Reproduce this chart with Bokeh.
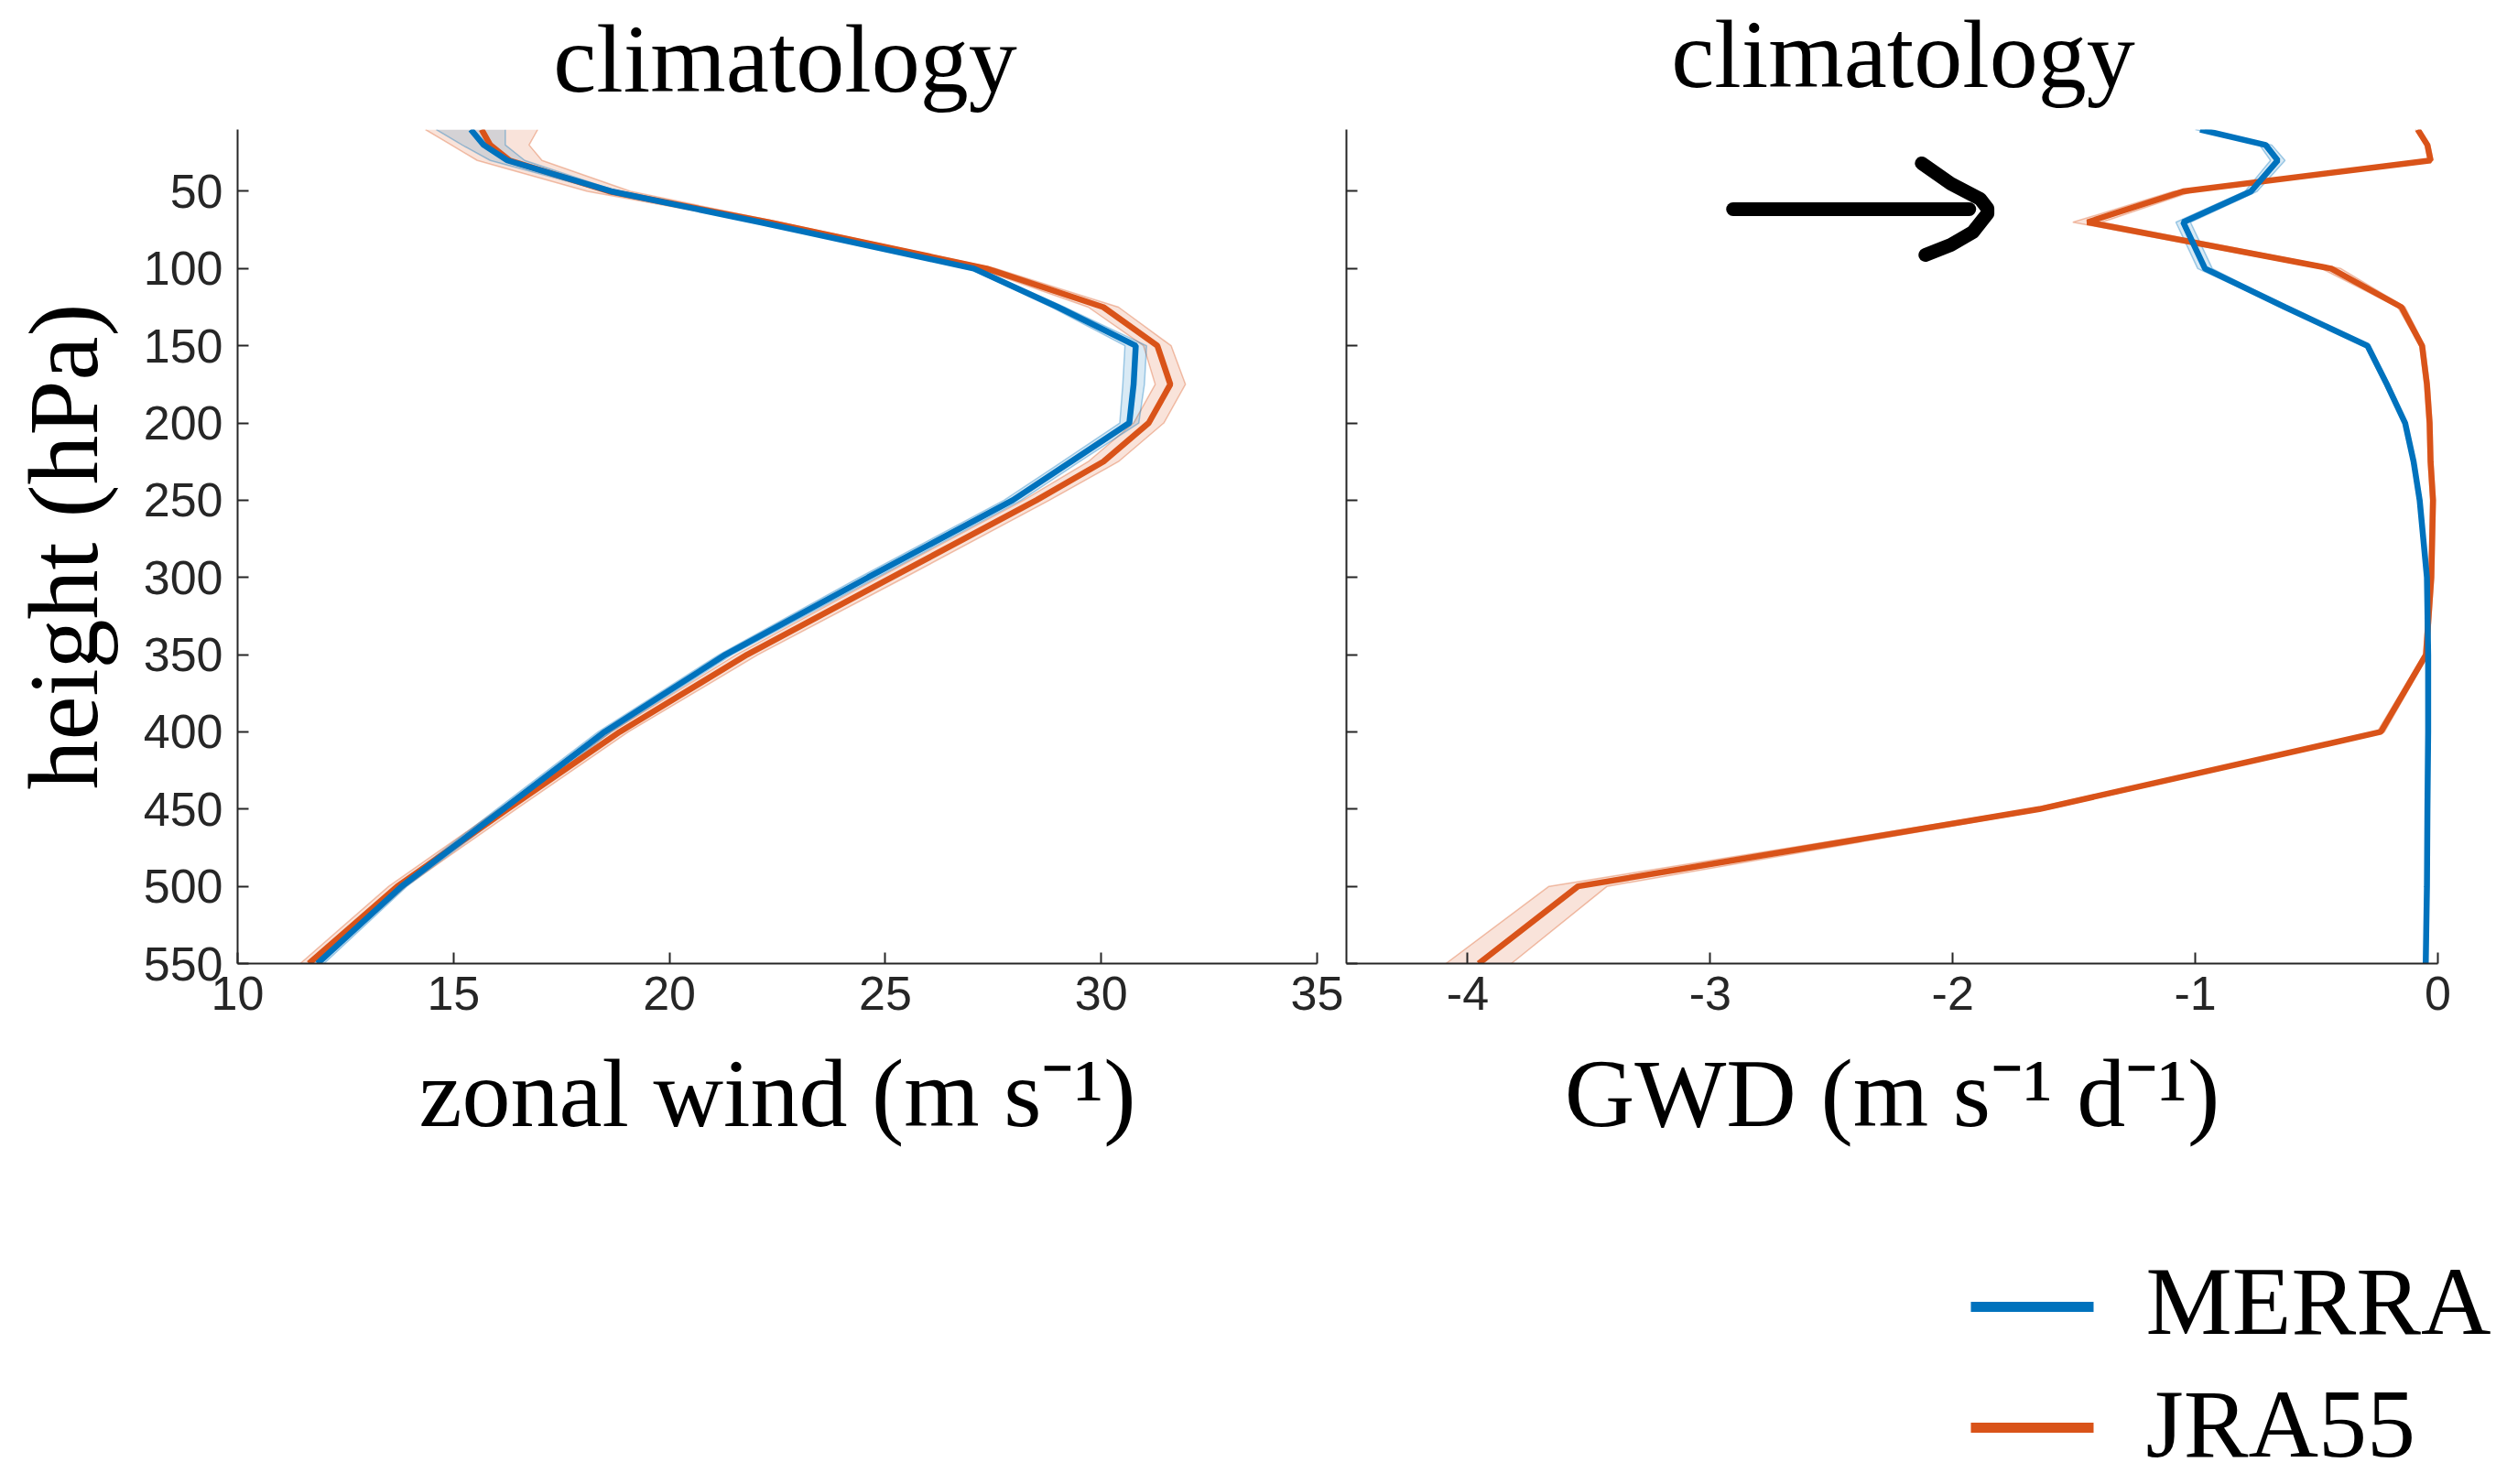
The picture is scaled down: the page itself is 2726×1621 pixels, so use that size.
import numpy as np
from bokeh.plotting import figure
from bokeh.layouts import row, column
from bokeh.models import FixedTicker, Range1d, Spacer
from bokeh.core.properties import value
from bokeh.embed import file_html
from bokeh.resources import INLINE

# ---------------- data ----------------
levels = [10, 20, 30, 50, 70, 100, 125, 150, 175, 200, 225, 250, 300, 350, 400, 450, 500, 550]

merra_u = [15.4, 15.7, 16.25, 18.65, 22.1, 27.05, 29.0, 30.8, 30.75, 30.65, 29.3, 27.95, 24.6, 21.3, 18.5, 16.15, 13.8, 11.85]
merra_u_spread = [0.8, 0.5, 0.4, 0.15, 0.1, 0.1, 0.15, 0.25, 0.25, 0.22, 0.2, 0.2, 0.2, 0.15, 0.15, 0.15, 0.12, 0.15]
jra_u = [15.65, 15.85, 16.3, 18.6, 22.3, 27.35, 30.05, 31.3, 31.6, 31.1, 30.05, 28.5, 25.15, 21.8, 18.85, 16.25, 13.7, 11.65]
jra_u_spread = [1.3, 0.9, 0.75, 0.5, 0.25, 0.2, 0.35, 0.32, 0.35, 0.35, 0.35, 0.3, 0.3, 0.25, 0.2, 0.2, 0.2, 0.2]

merra_gwd = [-0.98, -0.71, -0.66, -0.77, -1.05, -0.96, -0.63, -0.29, -0.21, -0.135, -0.10, -0.075, -0.045, -0.04, -0.04, -0.043, -0.045, -0.05]
merra_gwd_spread = [0.02, 0.025, 0.03, 0.025, 0.03, 0.03, 0.01, 0.01, 0.01, 0.005, 0.005, 0.005, 0.005, 0.005, 0.005, 0.005, 0.005, 0.005]
jra_gwd = [-0.083, -0.043, -0.03, -1.05, -1.445, -0.44, -0.15, -0.065, -0.045, -0.034, -0.03, -0.02, -0.027, -0.049, -0.235, -1.643, -3.545, -3.955]
jra_gwd_spread = [0.01, 0.01, 0.01, 0.04, 0.06, 0.04, 0.015, 0.01, 0.01, 0.01, 0.01, 0.01, 0.01, 0.01, 0.015, 0.04, 0.12, 0.135]

y_ticks = [50, 100, 150, 200, 250, 300, 350, 400, 450, 500, 550]
u_ticks = [10, 15, 20, 25, 30, 35]
gwd_ticks = [-4, -3, -2, -1, 0]

series_names = ["MERRA", "JRA55"]
panel_titles = ["climatology", "climatology"]

# hand-drawn arrow annotation (data coords of right panel)
arrow_xs = [[-2.906, -1.932],
            [-2.128, -2.008, -1.887, -1.857, -1.857, -1.917, -2.008, -2.113]]
arrow_ys = [[61.6, 61.6],
            [31.9, 45.0, 55.0, 61.0, 64.5, 76.4, 84.7, 91.2]]

# ---------------- style ----------------
BLUE = "#0072BD"
ORANGE = "#D95319"
AX = "#262626"
SERIF = "Liberation Serif"
SANS = "Liberation Sans"
W = 2726
TOP_H = 141
PLOT_H = 1199
LEG_H = 281


def style_axes(p, xticks, show_ylabels):
    p.outline_line_color = None
    p.xgrid.grid_line_color = None
    p.ygrid.grid_line_color = None
    p.background_fill_color = "white"
    p.border_fill_color = "white"
    for ax in (p.xaxis[0], p.yaxis[0]):
        ax.axis_line_color = AX
        ax.axis_line_width = 2
        ax.major_tick_line_color = AX
        ax.major_tick_line_width = 2
        ax.major_tick_in = 12
        ax.major_tick_out = 0
        ax.minor_tick_line_color = None
        ax.major_label_text_font = SANS
        ax.major_label_text_font_size = "52px"
        ax.major_label_text_color = AX
        ax.axis_label_text_font = SERIF
        ax.axis_label_text_font_style = "normal"
        ax.axis_label_text_color = "black"
    p.xaxis[0].ticker = FixedTicker(ticks=xticks)
    p.xaxis[0].major_label_overrides = {t: str(t) for t in xticks}
    p.yaxis[0].ticker = FixedTicker(ticks=y_ticks)
    p.xaxis[0].major_label_standoff = 14
    p.xaxis[0].axis_label_text_font_size = "106px"
    p.xaxis[0].axis_label_standoff = 30
    if show_ylabels:
        p.yaxis[0].major_label_standoff = 16
        p.yaxis[0].axis_label_text_font_size = "108px"
        p.yaxis[0].axis_label_standoff = 25
    else:
        p.yaxis[0].major_label_overrides = {t: "" for t in y_ticks}
        p.yaxis[0].major_label_text_font_size = "0px"
        p.yaxis[0].major_label_standoff = 0


def draw_profiles(p, m_mean, m_spread, j_mean, j_spread):
    lv = np.array(levels, dtype=float)
    mm, ms = np.array(m_mean), np.array(m_spread)
    jm, js = np.array(j_mean), np.array(j_spread)
    p.harea(y=lv, x1=jm - js, x2=jm + js, fill_color=ORANGE, fill_alpha=0.16)
    p.line(jm - js, lv, line_color=ORANGE, line_alpha=0.35, line_width=1.5)
    p.line(jm + js, lv, line_color=ORANGE, line_alpha=0.35, line_width=1.5)
    p.harea(y=lv, x1=mm - ms, x2=mm + ms, fill_color=BLUE, fill_alpha=0.15)
    p.line(mm - ms, lv, line_color=BLUE, line_alpha=0.35, line_width=1.5)
    p.line(mm + ms, lv, line_color=BLUE, line_alpha=0.35, line_width=1.5)
    p.line(jm, lv, line_color=ORANGE, line_width=6.5)
    p.line(mm, lv, line_color=BLUE, line_width=6.5)


def blank_fig(width, height):
    f = figure(width=width, height=height, x_range=Range1d(0, width), y_range=Range1d(height, 0),
               x_axis_location=None, y_axis_location=None, output_backend="svg",
               toolbar_location=None, min_border=0, title=None)
    f.outline_line_color = None
    f.grid.grid_line_color = None
    return f


# ---------------- titles strip ----------------
pt = blank_fig(W, TOP_H)
pt.text(x=[857, 2078], y=[64, 59], text=panel_titles, text_font=value(SERIF),
        text_font_size="106px", text_align="center", text_baseline="middle",
        text_color="black")

# ---------------- left panel ----------------
p1 = figure(width=1468, height=PLOT_H, x_range=Range1d(10, 35), y_range=Range1d(550, 10),
            title=None, x_axis_label="zonal wind (m s\u207b\u00b9)",
            y_axis_label="height (hPa)",
            output_backend="svg", toolbar_location=None,
            min_border_left=259, min_border_right=30, min_border_top=0, min_border_bottom=288)
style_axes(p1, u_ticks, True)
draw_profiles(p1, merra_u, merra_u_spread, jra_u, jra_u_spread)

# ---------------- right panel ----------------
p2 = figure(width=W - 1468, height=PLOT_H, x_range=Range1d(-4.5, 0), y_range=Range1d(550, 10),
            title=None, x_axis_label="GWD (m s\u207b\u00b9 d\u207b\u00b9)",
            output_backend="svg", toolbar_location=None,
            min_border_left=2, min_border_right=64, min_border_top=0, min_border_bottom=288)
style_axes(p2, gwd_ticks, False)
draw_profiles(p2, merra_gwd, merra_gwd_spread, jra_gwd, jra_gwd_spread)
p2.multi_line(xs=arrow_xs, ys=arrow_ys, line_color="black", line_width=15,
              line_cap="round", line_join="round")

# ---------------- legend (bottom right) ----------------
p3 = blank_fig(626, LEG_H)
leg_colors = [BLUE, ORANGE]
leg_rows = [87, 219]       # swatch centre (px from top of legend box)
leg_text_mid = [81, 215]   # text middle
p3.segment(x0=[52, 52], y0=leg_rows, x1=[186, 186], y1=leg_rows,
           line_color=leg_colors, line_width=11)
p3.text(x=[243, 243], y=leg_text_mid, text=series_names, text_font=value(SERIF),
        text_font_size="106px", text_baseline="middle", text_align="left",
        text_color="black")

layout = column(pt, row(p1, p2), row(Spacer(width=W - 626, height=LEG_H), p3))
open("out.html", "w").write(file_html(layout, INLINE))
